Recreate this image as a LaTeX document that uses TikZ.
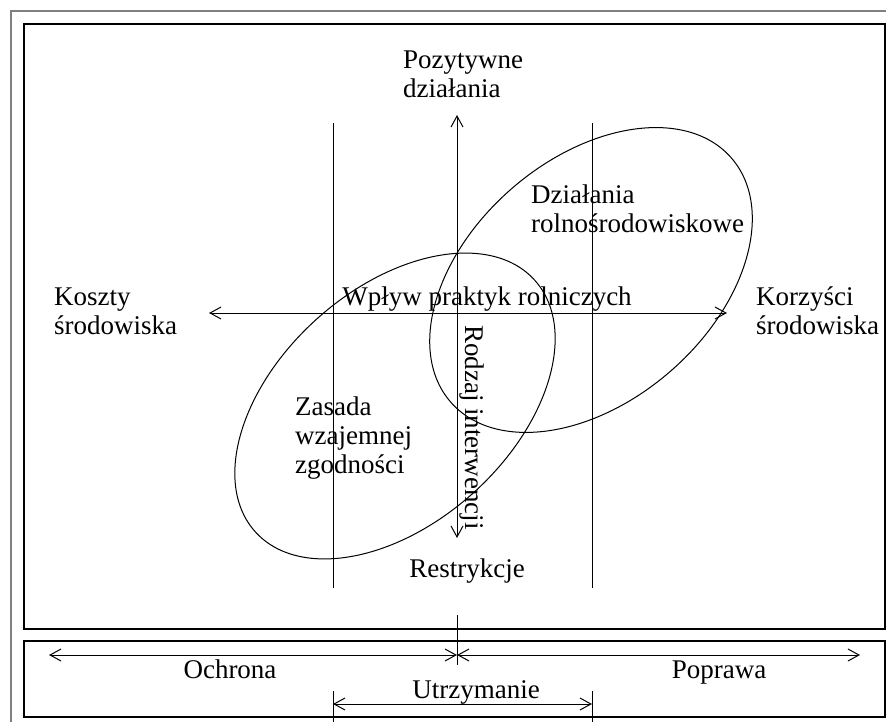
\documentclass[tikz,border=0pt]{standalone}
\usepackage{fontspec}
\setmainfont{Liberation Serif}
\usetikzlibrary{arrows.meta}
\begin{document}
\begin{tikzpicture}[x=1pt,y=-1pt,
  lbl/.style={inner sep=0pt, font=\fontsize{27}{29}\selectfont},
  mlbl/.style={lbl, align=left, anchor=north west},
  ln/.style={line width=1pt},
  barb/.tip={Straight Barb[length=11pt,width=12pt]},
  dbl/.style={ln, barb-barb},
  ell/.style={line width=1pt},
  boxframe/.style={line width=1.3pt},
  outerframe/.style={line width=2pt, gray}]
\useasboundingbox (0,0) rectangle (886,722);
% frames
\coordinate (o1) at (11,722); \coordinate (o2) at (11,11); \coordinate (o3) at (886,11);
\draw[outerframe] (o1) -- (o2) -- (o3);
\coordinate (b1a) at (24,24); \coordinate (b1b) at (885,629);
\coordinate (b2a) at (24,641); \coordinate (b2b) at (885,717);
\draw[boxframe] (b1a) rectangle (b1b);
\draw[boxframe] (b2a) rectangle (b2b);
% ellipses
\coordinate (eA) at (591,280);
\coordinate (eZ) at (395,406);
\draw[ell, rotate around={41:(eA)}] (eA) ellipse [x radius=186pt, y radius=121pt];
\draw[ell, rotate around={42:(eZ)}] (eZ) ellipse [x radius=188pt, y radius=117pt];
% vertical guide lines
\coordinate (v1t) at (333,123); \coordinate (v1b) at (333,588);
\coordinate (v2t) at (592,123); \coordinate (v2b) at (592,588);
\draw[ln] (v1t) -- (v1b);
\draw[ln] (v2t) -- (v2b);
% axes
\coordinate (ytop) at (457,115); \coordinate (ybot) at (457,538);
\coordinate (xl) at (209,313); \coordinate (xr) at (727,313);
\draw[dbl] (ybot) -- (ytop);
\draw[dbl] (xl) -- (xr);
% bottom scale
\coordinate (cc) at (457,655); \coordinate (bl) at (49,655); \coordinate (br) at (860,655);
\coordinate (ct) at (457,615); \coordinate (cb) at (457,665);
\draw[ln] (ct) -- (cb);
\draw[dbl] (bl) -- (cc);
\draw[dbl] (cc) -- (br);
\coordinate (ul) at (333,704); \coordinate (ur) at (592,704);
\draw[dbl] (ul) -- (ur);
\coordinate (t1a) at (333,691); \coordinate (t1b) at (333,722);
\coordinate (t2a) at (592,691); \coordinate (t2b) at (592,722);
\draw[ln] (t1a) -- (t1b);
\draw[ln] (t2a) -- (t2b);
% labels
\node[mlbl] (poz) at (403,47.7) {\strut Pozytywne\\działania};
\node[mlbl] (koszty) at (54,284.7) {\strut Koszty\\środowiska};
\node[mlbl] (korz) at (756,284.7) {\strut Korzyści\\środowiska};
\node[mlbl] (dzial) at (531,182.7) {\strut Działania\\rolnośrodowiskowe};
\node[mlbl] (zasada) at (295,394.7) {\strut Zasada\\wzajemnej\\zgodności};
\node[lbl, anchor=base] (wplyw) at (487,305) {Wpływ praktyk rolniczych};
\node[lbl, anchor=base west, rotate=-90] (rodzaj) at (465,325) {Rodzaj interwencji};
\node[lbl, anchor=base] (restr) at (467,577) {Restrykcje};
\node[lbl, anchor=base] (ochr) at (230,678) {Ochrona};
\node[lbl, anchor=base] (popr) at (719,678) {Poprawa};
\node[lbl, anchor=base] (utrz) at (476,698) {Utrzymanie};
\end{tikzpicture}
\end{document}
